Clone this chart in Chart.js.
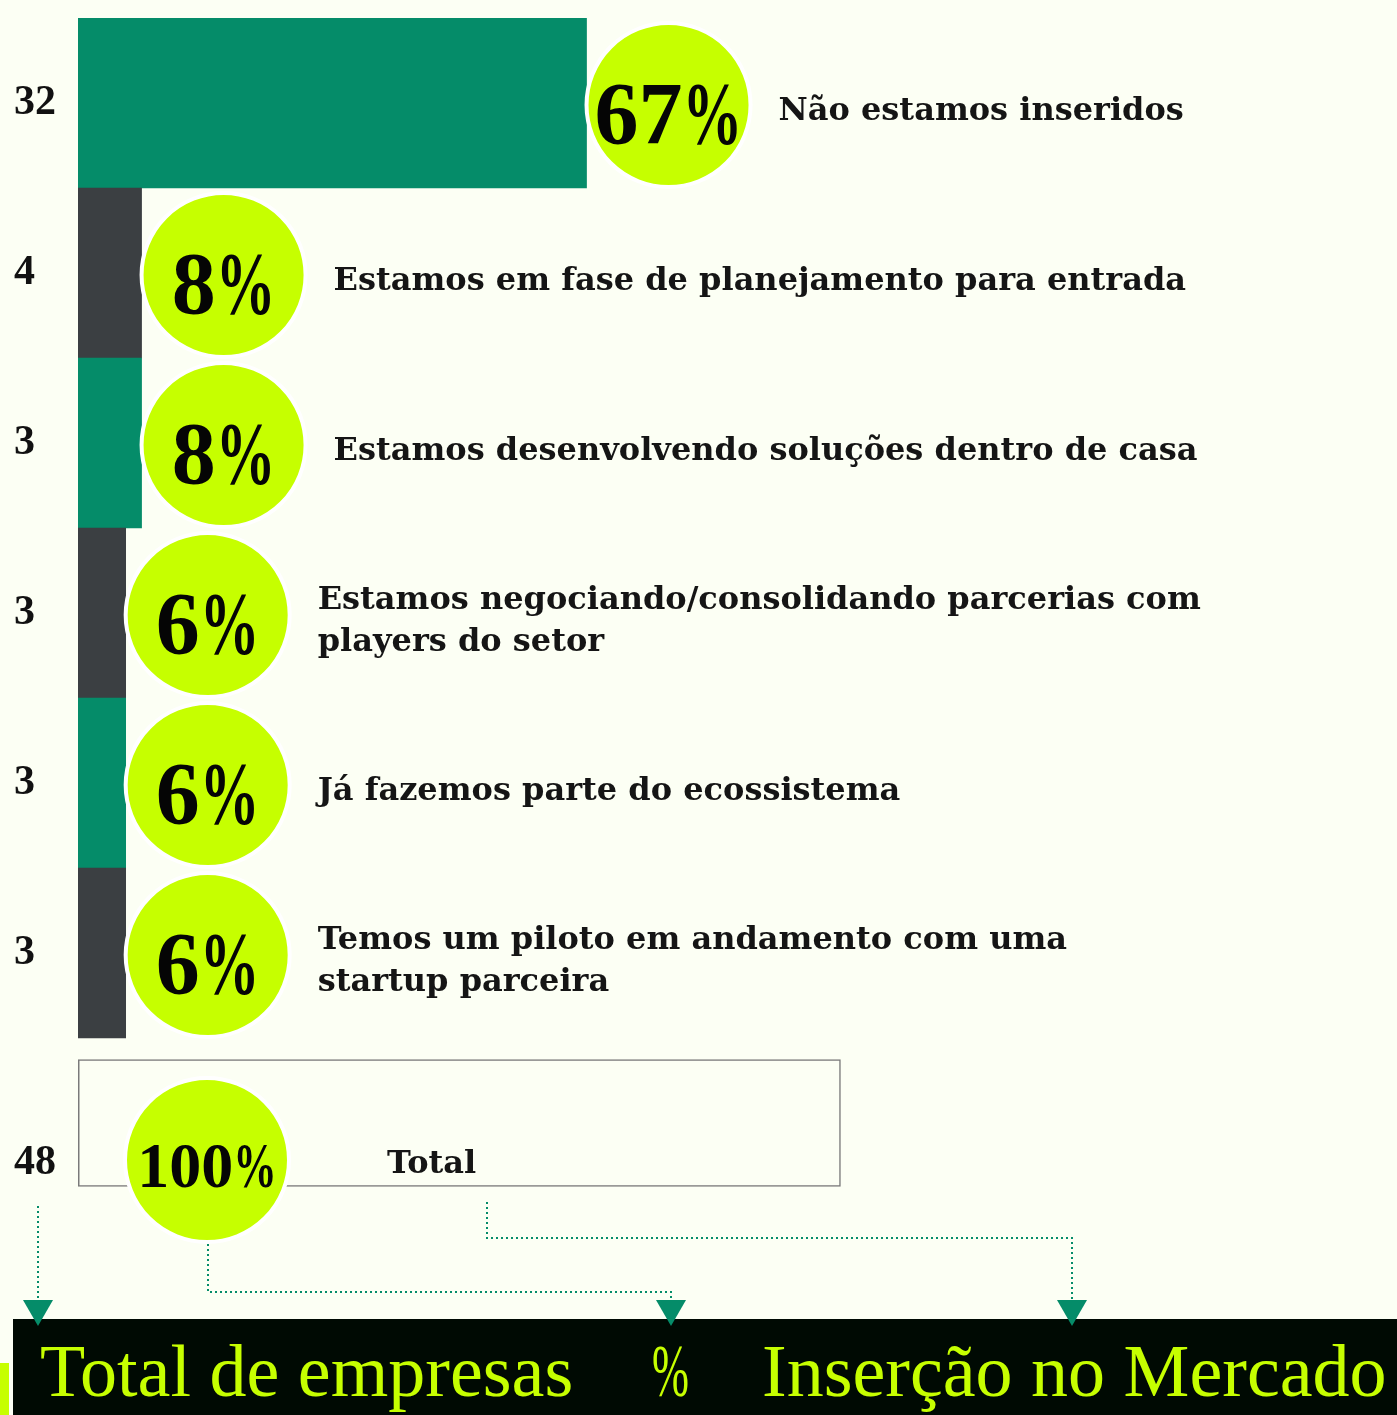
<!DOCTYPE html>
<html>
<head>
<meta charset="utf-8">
<script src="https://cdn.jsdelivr.net/npm/chart.js@4.4.1/dist/chart.umd.min.js"></script>
<style>
  body { margin: 0; background: #fcfff4; width: 1397px; height: 1415px; overflow: hidden; position: relative; }
  .band { position: absolute; left: 13px; top: 1319px; width: 1384px; height: 96px; background: #000a03; }
  .strip { position: absolute; left: 0; top: 1363px; width: 9px; height: 52px; background: #c6ff00; }
  .band span { position: absolute; top: 15px; font-family: "Liberation Serif", serif; font-size: 74px; line-height: 74px; color: #c6ff00; white-space: nowrap; }
  #wrap { position: absolute; left: 0; top: 0; width: 1397px; height: 1415px; z-index: 2; }
</style>
</head>
<body>
<div class="band">
  <span style="left:27px">Total de empresas</span>
  <span style="left:639px; transform: scaleX(0.6); transform-origin: left">%</span>
  <span style="left:749px">Inserção no Mercado</span>
</div>
<div class="strip"></div>
<div id="wrap"><canvas id="chart" width="1397" height="1415"></canvas></div>
<script>
// rows, top to bottom
const categories = [
    ["Não estamos inseridos"],
    ["Estamos em fase de planejamento para entrada"],
    ["Estamos desenvolvendo soluções dentro de casa"],
    ["Estamos negociando/consolidando parcerias com", "players do setor"],
    ["Já fazemos parte do ecossistema"],
    ["Temos um piloto em andamento com uma", "startup parceira"],
    ["Total"]
]
const barValues = [32, 4, 4, 3, 3, 3, null]
const totalValues = [null, null, null, null, null, null, 48]
const countLabels = ["32", "4", "3", "3", "3", "3", "48"]
const percentValues = ["67", "8", "8", "6", "6", "6", "100"]

const GREEN = "#058c69"
const DARK = "#3b3f42"
const LIME = "#c6ff00"
const barColors = [GREEN, DARK, GREEN, DARK, GREEN, DARK, GREEN]

const R = 82

function draw_bubble(ctx, cx, cy, num, size, drop) {
    ctx.save()
    ctx.beginPath()
    ctx.arc(cx, cy, R, 0, Math.PI * 2)
    ctx.fillStyle = LIME
    ctx.fill()
    ctx.lineWidth = 4
    ctx.strokeStyle = "#ffffff"
    ctx.stroke()

    // number, then a narrow percent sign
    ctx.font = "bold " + size + "px 'Liberation Serif'"
    ctx.textBaseline = "alphabetic"
    ctx.textAlign = "left"
    ctx.fillStyle = "#050505"
    const pct_scale = 0.68
    const wn = ctx.measureText(num).width
    const wp = ctx.measureText("%").width * pct_scale
    const x0 = cx - (wn + wp) / 2
    ctx.fillText(num, x0, cy + drop)
    ctx.translate(x0 + wn, cy + drop)
    ctx.scale(pct_scale, 1)
    ctx.fillText("%", 0, 0)
    ctx.restore()
}

function draw_label(ctx, x, cy, lines) {
    ctx.save()
    ctx.font = "bold 32px 'DejaVu Serif'"
    ctx.fillStyle = "#151515"
    ctx.textAlign = "left"
    ctx.textBaseline = "middle"
    const lh = 42
    const top = cy - (lines.length - 1) * lh / 2
    lines.forEach((l, i) => ctx.fillText(l, x, top + i * lh))
    ctx.restore()
}

function dotted(ctx, pts) {
    ctx.beginPath()
    ctx.moveTo(pts[0][0], pts[0][1])
    pts.slice(1).forEach(p => ctx.lineTo(p[0], p[1]))
    ctx.stroke()
}

function arrow(ctx, x, y) {
    ctx.beginPath()
    ctx.moveTo(x - 15, y)
    ctx.lineTo(x + 15, y)
    ctx.lineTo(x, y + 26)
    ctx.closePath()
    ctx.fill()
}

const overlay = {
    id: "overlay",
    afterDatasetsDraw(chart) {
        const ctx = chart.ctx
        const bars = chart.getDatasetMeta(0).data
        bars.forEach((bar, i) => {
            if (barValues[i] == null) return
            const cx = bar.x + R
            draw_bubble(ctx, cx, bar.y + 2, percentValues[i], 88, 38)
            draw_label(ctx, cx + R + 28, bar.y + 9, categories[i])
        })
        // total row
        const tb = chart.getDatasetMeta(1).data[6]
        const left = chart.chartArea.left
        draw_bubble(ctx, left + 129, tb.y + 37, percentValues[6], 64, 27)
        draw_label(ctx, left + 309, tb.y + 42, categories[6])

        // connectors to the footer
        ctx.save()
        ctx.strokeStyle = GREEN
        ctx.fillStyle = GREEN
        ctx.lineWidth = 2
        ctx.setLineDash([2, 3])
        dotted(ctx, [[38, 1206], [38, 1300]])
        dotted(ctx, [[208, 1244], [208, 1292], [671, 1292], [671, 1300]])
        dotted(ctx, [[487, 1202], [487, 1238], [1072, 1238], [1072, 1300]])
        ctx.setLineDash([])
        arrow(ctx, 38, 1300)
        arrow(ctx, 671, 1300)
        arrow(ctx, 1072, 1300)
        ctx.restore()
    }
}

let ctx = document.getElementById("chart").getContext("2d")
let chart = new Chart(ctx, {
    type: "bar",
    data: {
        labels: categories,
        datasets: [{
            data: barValues,
            backgroundColor: barColors,
            barPercentage: 1,
            categoryPercentage: 1,
            grouped: false,
        },
        {
            data: totalValues,
            backgroundColor: "rgba(0,0,0,0)",
            borderColor: "#7a7a7a",
            borderWidth: 1.5,
            borderSkipped: false,
            barPercentage: 0.75,
            categoryPercentage: 1,
            grouped: false,
        }]
    },
    options: {
        indexAxis: "y",
        responsive: false,
        animation: false,
        layout: {
            padding: { left: 14, top: 18, right: 0, bottom: 207 }
        },
        plugins: {
            legend: { display: false },
            tooltip: { enabled: false }
        },
        scales: {
            x: {
                display: false,
                min: 0,
                max: 83,
            },
            y: {
                // fixed axis width, and no extra room for the label heights
                afterFit: s => { s.width = 64; s.paddingTop = 0; s.paddingBottom = 0 },
                grid: { display: false },
                border: { display: false },
                ticks: {
                    crossAlign: "far",
                    padding: 0,
                    color: "#111111",
                    font: { family: "Liberation Serif", weight: "bold", size: 42, lineHeight: 1.9 },
                    // the total count sits lower than its box, push it down one line
                    callback: (v, i) => i === 6 ? ["", countLabels[i]] : countLabels[i]
                }
            }
        }
    },
    plugins: [overlay]
})
</script>
</body>
</html>
